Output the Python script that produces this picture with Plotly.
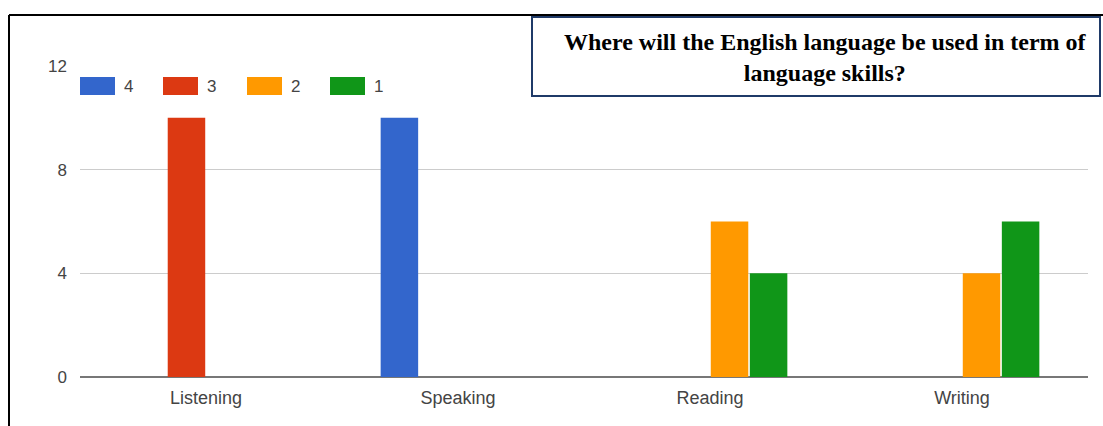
import plotly.graph_objects as go

# Survey results: how often each skill is named, by rating
skills = ["Listening", "Speaking", "Reading", "Writing"]
ratings = ["4", "3", "2", "1"]
counts_4 = [0, 10, 0, 0]
counts_3 = [10, 0, 0, 0]
counts_2 = [0, 0, 6, 4]
counts_1 = [0, 0, 4, 6]
y_ticks = [0, 4, 8, 12]
colors = ["#3366CC", "#DC3912", "#FF9900", "#109618"]
title_text = "Where will the English language be used in term of<br>language skills?"

W, H = 1103, 426
L, R, T, B = 80, 1088, 66, 377  # plot area in pixels


def px_x(p):
    return (p - L) / (R - L)


def px_y(p):
    return (B - p) / (B - T)


fig = go.Figure()
for name, vals, col in zip(ratings, [counts_4, counts_3, counts_2, counts_1], colors):
    fig.add_trace(go.Bar(x=skills, y=vals, name=name, marker_color=col,
                         marker_line_width=0, showlegend=False))

shapes = []
annotations = []

# custom legend: wide colour swatches with labels
leg_x = [80, 163, 247, 330]
for lx, name, col in zip(leg_x, ratings, colors):
    shapes.append(dict(type="rect", xref="paper", yref="paper",
                       x0=px_x(lx), x1=px_x(lx + 35), y0=px_y(77), y1=px_y(95),
                       fillcolor=col, line_width=0, layer="above"))
    annotations.append(dict(xref="paper", yref="paper", x=px_x(lx + 42), y=px_y(86),
                            text=name, showarrow=False, xanchor="left", yanchor="middle",
                            font=dict(family="Arial, Liberation Sans", size=17, color="#444")))

# outer frame (top and left edges)
shapes.append(dict(type="line", xref="paper", yref="paper",
                   x0=px_x(9), x1=px_x(W + 5), y0=px_y(15), y1=px_y(15),
                   line=dict(color="black", width=2)))
shapes.append(dict(type="line", xref="paper", yref="paper",
                   x0=px_x(9), x1=px_x(9), y0=px_y(15), y1=px_y(H + 5),
                   line=dict(color="black", width=2)))

# title box
shapes.append(dict(type="rect", xref="paper", yref="paper",
                   x0=px_x(532), x1=px_x(1100), y0=px_y(96), y1=px_y(17),
                   fillcolor="white", line=dict(color="#1F3A68", width=2), layer="above"))
annotations.append(dict(xref="paper", yref="paper", x=px_x(825), y=px_y(57),
                        text="<b>" + title_text + "</b>", showarrow=False,
                        xanchor="center", yanchor="middle", align="center",
                        font=dict(family="Liberation Serif, Times New Roman", size=24, color="black")))

fig.update_layout(
    width=W, height=H,
    margin=dict(l=L, r=W - R, t=T, b=H - B, autoexpand=False),
    paper_bgcolor="white", plot_bgcolor="white",
    barmode="group", bargap=0.38, bargroupgap=0.04,
    shapes=shapes, annotations=annotations,
    xaxis=dict(showgrid=False, showline=False, ticks="", ticklabelstandoff=8,
               tickfont=dict(family="Arial, Liberation Sans", size=18, color="#444")),
    yaxis=dict(range=[0, 12], tickvals=y_ticks, showgrid=True, gridcolor="#CCCCCC",
               gridwidth=1, zeroline=True, zerolinecolor="#777", zerolinewidth=2,
               ticks="", ticklabelstandoff=12,
               tickfont=dict(family="Arial, Liberation Sans", size=17, color="#444")),
)

fig.write_html("out.html")
